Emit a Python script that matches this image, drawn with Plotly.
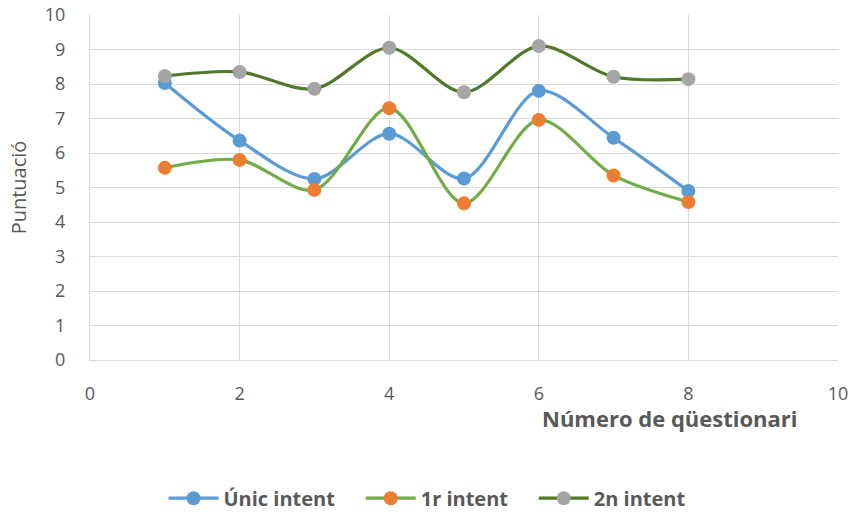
import plotly.graph_objects as go

x_vals = [1, 2, 3, 4, 5, 6, 7, 8]
unic = [8.03, 6.36, 5.25, 6.56, 5.26, 7.8, 6.44, 4.9]
r1 = [5.57, 5.8, 4.93, 7.3, 4.54, 6.96, 5.35, 4.58]
n2 = [8.23, 8.35, 7.86, 9.05, 7.76, 9.1, 8.21, 8.14]

names = ["Únic intent", "1r intent", "2n intent"]
name_pad = ["&nbsp;&nbsp;&nbsp;&nbsp;", "&nbsp;&nbsp;&nbsp;&nbsp;", ""]
line_colors = ["#5B9BD5", "#70AD47", "#4E7A2A"]
marker_colors = ["#5B9BD5", "#ED7D31", "#A5A5A5"]

fig = go.Figure()
for ys, nm, pad, lc, mc in zip([unic, r1, n2], names, name_pad, line_colors, marker_colors):
    fig.add_trace(go.Scatter(
        x=x_vals, y=ys, name="<b>" + nm + "</b>" + pad, mode="lines+markers",
        line=dict(color=lc, width=3.2, shape="spline", smoothing=0.9),
        marker=dict(color=mc, size=14),
    ))

font_fam = "Open Sans, Liberation Sans, sans-serif"
fig.update_layout(
    width=854, height=512,
    margin=dict(l=90, r=16, t=15, b=152),
    paper_bgcolor="white", plot_bgcolor="white",
    font=dict(family=font_fam, color="#595959", size=15),
    xaxis=dict(range=[0, 10], dtick=2, showgrid=True, gridcolor="#D9D9D9", gridwidth=1.3,
               zeroline=False, showline=True, linecolor="#D9D9D9", automargin=False,
               tickfont=dict(size=18, color="#595959"), ticks="", ticklabelstandoff=17),
    yaxis=dict(range=[0, 10], dtick=1, showgrid=True, gridcolor="#D9D9D9", gridwidth=1.3,
               zeroline=False, showline=True, linecolor="#D9D9D9", automargin=False,
               tickfont=dict(size=18, color="#595959"), ticklabelstandoff=20,
               title=dict(text="Puntuació", font=dict(size=20, color="#595959"), standoff=12)),
    legend=dict(orientation="h", x=0.5, xanchor="center", xref="container",
                y=0.027, yanchor="middle", yref="container",
                font=dict(size=20, color="#595959", family=font_fam), itemwidth=50,
                traceorder="normal"),
    showlegend=True,
)
fig.add_annotation(text="<b>Número de qüestionari</b>", xref="paper", yref="paper",
                   x=0.949, y=-0.168, xanchor="right", yanchor="middle", showarrow=False,
                   font=dict(size=22, color="#595959", family=font_fam))
fig.write_html("out.html", config={"displayModeBar": False},
               post_script="document.body.style.margin='0';")
